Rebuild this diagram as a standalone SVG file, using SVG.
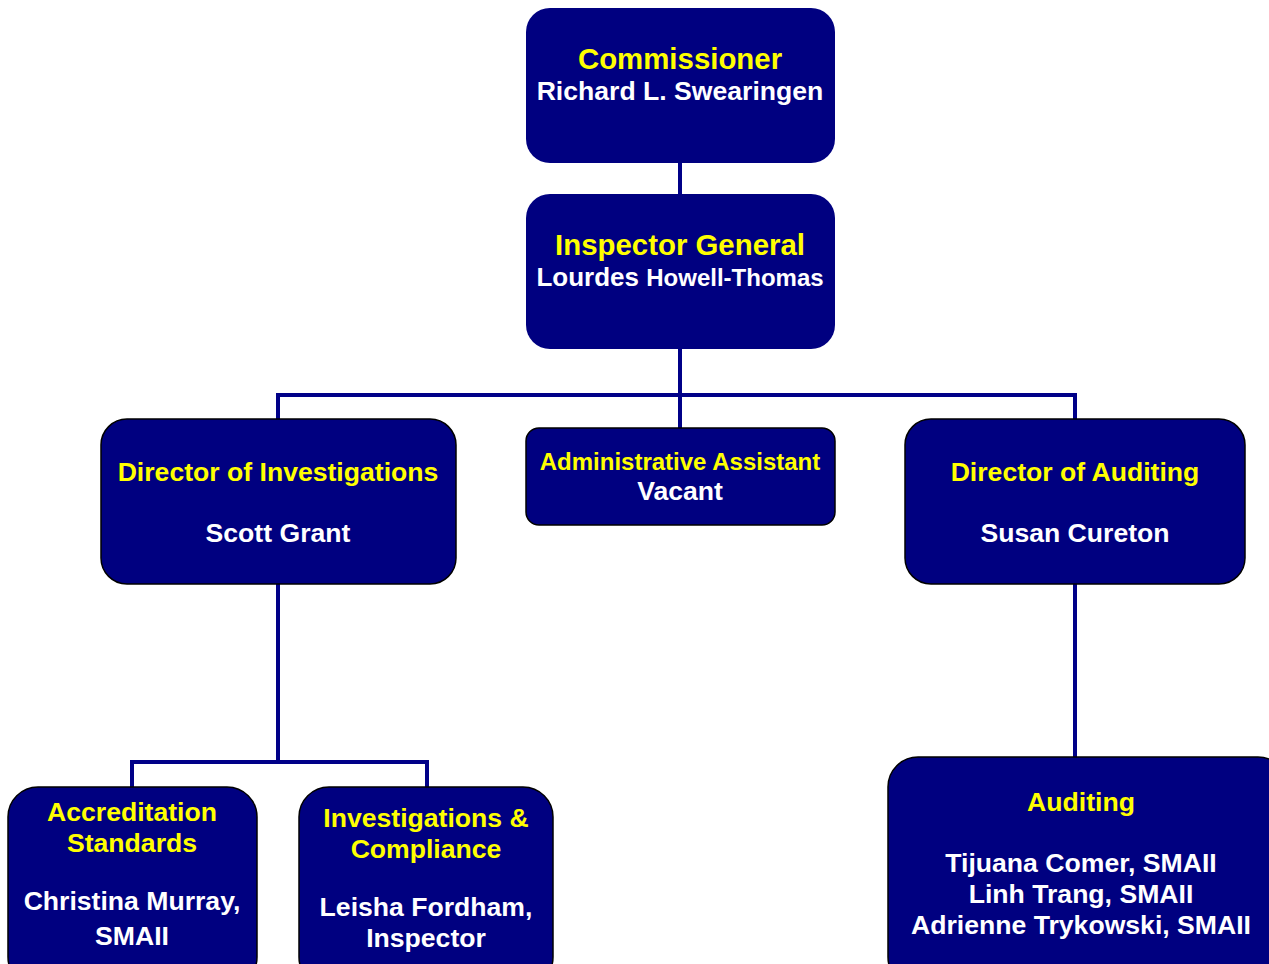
<svg xmlns="http://www.w3.org/2000/svg" width="1269" height="964" viewBox="0 0 1269 964">
<style>
.box{fill:#000080;}
.bs{fill:#000080;stroke:#000;stroke-width:1.5;}
.t{font-family:"Liberation Sans",Arial,sans-serif;font-weight:bold;text-anchor:middle;font-size:26.6px;}
.y{fill:#ffff00;}
.w{fill:#ffffff;}
.c{fill:none;stroke:#000088;stroke-width:4;}
</style>
<rect width="1269" height="964" fill="#ffffff"/>
<g id="connectors">
<path class="c" d="M680 160V197"/>
<path class="c" d="M680 347V430"/>
<path class="c" d="M278 420V395H1075V420"/>
<path class="c" d="M278 583V762"/>
<path class="c" d="M132 788V762H427V788"/>
<path class="c" d="M1075 583V758"/>
</g>
<g id="commissioner">
<rect class="box" x="526" y="8" width="309" height="155" rx="24"/>
<text class="t y" x="680" y="69" style="font-size:29.4px">Commissioner</text>
<text class="t w" x="680" y="100">Richard L. Swearingen</text>
</g>
<g id="inspector-general">
<rect class="box" x="526" y="194" width="309" height="155" rx="24"/>
<text class="t y" x="680" y="255" style="font-size:29.4px">Inspector General</text>
<text class="t w" x="680" y="286" style="font-size:26px">Lourdes <tspan style="font-size:24px">Howell-Thomas</tspan></text>
</g>
<g id="director-investigations">
<rect class="bs" x="101" y="419" width="355" height="165" rx="26"/>
<text class="t y" x="278" y="481">Director of Investigations</text>
<text class="t w" x="278" y="542">Scott Grant</text>
</g>
<g id="admin-assistant">
<rect class="bs" x="526" y="428" width="309" height="97" rx="13"/>
<text class="t y" x="680" y="470" style="font-size:24px">Administrative Assistant</text>
<text class="t w" x="680" y="500">Vacant</text>
</g>
<g id="director-auditing">
<rect class="bs" x="905" y="419" width="340" height="165" rx="26"/>
<text class="t y" x="1075" y="481">Director of Auditing</text>
<text class="t w" x="1075" y="542">Susan Cureton</text>
</g>
<g id="accreditation">
<rect class="bs" x="8" y="787" width="249" height="200" rx="30"/>
<text class="t y" x="132" y="821">Accreditation</text>
<text class="t y" x="132" y="852">Standards</text>
<text class="t w" x="132" y="910">Christina Murray,</text>
<text class="t w" x="132" y="945">SMAII</text>
</g>
<g id="investigations-compliance">
<rect class="bs" x="299" y="787" width="254" height="200" rx="30"/>
<text class="t y" x="426" y="827">Investigations &amp;</text>
<text class="t y" x="426" y="858">Compliance</text>
<text class="t w" x="426" y="916">Leisha Fordham,</text>
<text class="t w" x="426" y="947">Inspector</text>
</g>
<g id="auditing">
<rect class="bs" x="888" y="757" width="400" height="230" rx="30"/>
<text class="t y" x="1081" y="811">Auditing</text>
<text class="t w" x="1081" y="872">Tijuana Comer, SMAII</text>
<text class="t w" x="1081" y="903">Linh Trang, SMAII</text>
<text class="t w" x="1081" y="934">Adrienne Trykowski, SMAII</text>
</g>
</svg>
